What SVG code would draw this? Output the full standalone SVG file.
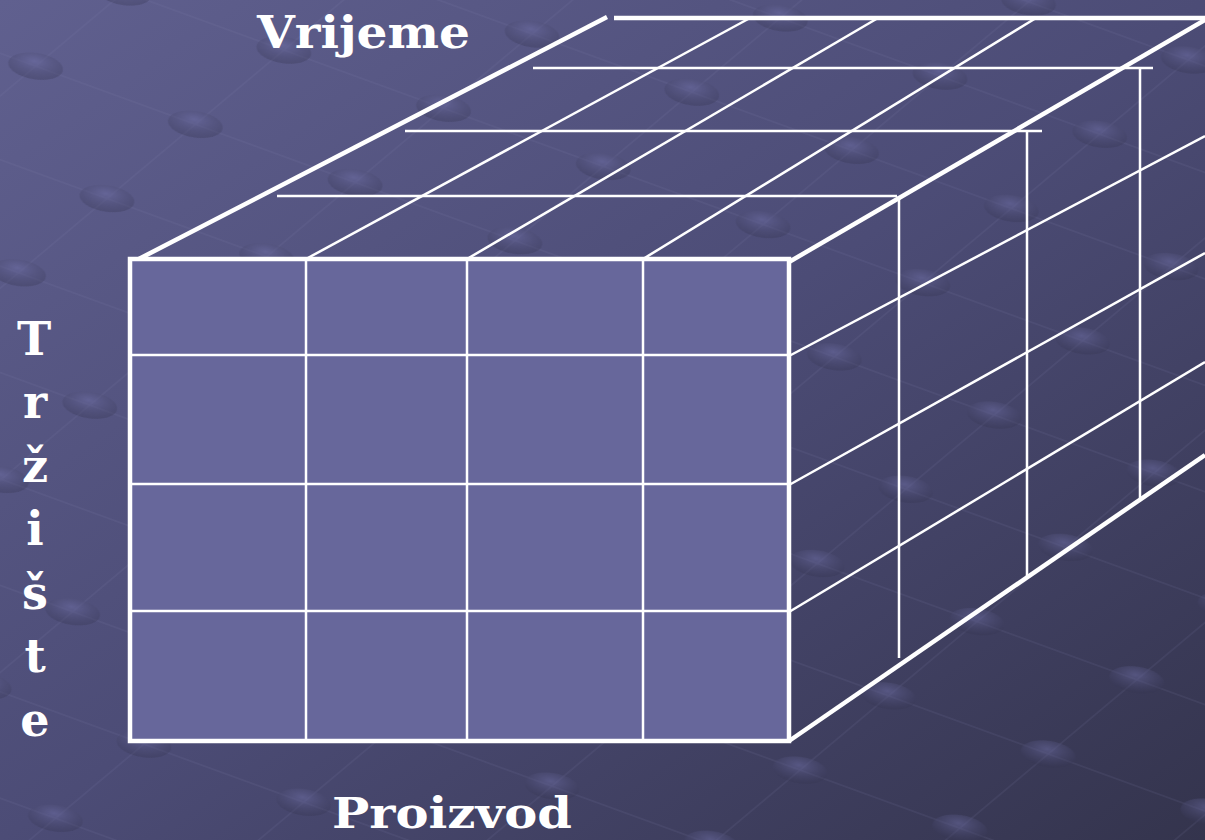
<svg xmlns="http://www.w3.org/2000/svg" width="1205" height="840" viewBox="0 0 1205 840">
<defs>
<linearGradient id="bg" x1="0" y1="0" x2="1" y2="1">
<stop offset="0" stop-color="#60608f"/>
<stop offset="0.5" stop-color="#4c4c76"/>
<stop offset="1" stop-color="#34344d"/>
</linearGradient>
<radialGradient id="dot" cx="0.4" cy="0.35" r="0.7">
<stop offset="0" stop-color="#7070a8" stop-opacity="0.5"/>
<stop offset="1" stop-color="#30304a" stop-opacity="0.3"/>
</radialGradient>
<pattern id="tex" width="170" height="100" patternUnits="userSpaceOnUse" patternTransform="rotate(20) skewX(-30)">
<path d="M0 50 H170 M85 0 V100" stroke="#8080b0" stroke-opacity="0.15" stroke-width="1.5" fill="none"/>
<ellipse cx="85" cy="50" rx="26" ry="14" fill="url(#dot)"/>
</pattern>
<style>
.thick{stroke:#fff;stroke-width:4.5;fill:none;stroke-linecap:butt}
.thin{stroke:#fff;stroke-width:2.5;fill:none}
.lbl{font-family:"DejaVu Serif","Liberation Serif",serif;font-weight:bold;fill:#fff}
.v{font-size:46px;text-anchor:middle}
</style>
</defs>
<rect width="1205" height="840" fill="url(#bg)"/>
<rect width="1205" height="840" fill="url(#tex)"/>

<g id="top-face">
<line class="thin" x1="306" y1="259" x2="750" y2="18"/>
<line class="thin" x1="467" y1="259" x2="878" y2="18"/>
<line class="thin" x1="643" y1="259" x2="1036" y2="18"/>
<line class="thin" x1="533" y1="68" x2="1153" y2="68"/>
<line class="thin" x1="405" y1="131" x2="1042" y2="131"/>
<line class="thin" x1="277" y1="196" x2="897" y2="196"/>
<line class="thick" x1="133" y1="262" x2="607" y2="17"/>
<line class="thick" x1="614" y1="18" x2="1205" y2="18"/>
</g>

<g id="right-face">
<line class="thin" x1="1140" y1="68" x2="1140" y2="498"/>
<line class="thin" x1="1027" y1="131" x2="1027" y2="578"/>
<line class="thin" x1="899" y1="196" x2="899" y2="658"/>
<line class="thin" x1="789" y1="356" x2="1205" y2="136"/>
<line class="thin" x1="789" y1="485" x2="1205" y2="253"/>
<line class="thin" x1="789" y1="612" x2="1205" y2="362"/>
<line class="thick" x1="789" y1="262" x2="1205" y2="20"/>
<line class="thick" x1="789" y1="741" x2="1205" y2="455"/>
</g>

<g id="front-face">
<rect x="130" y="259" width="659" height="482" fill="#67679b" stroke="none"/>
<line class="thin" x1="306" y1="259" x2="306" y2="741"/>
<line class="thin" x1="467" y1="259" x2="467" y2="741"/>
<line class="thin" x1="643" y1="259" x2="643" y2="741"/>
<line class="thin" x1="130" y1="355" x2="789" y2="355"/>
<line class="thin" x1="130" y1="484" x2="789" y2="484"/>
<line class="thin" x1="130" y1="611" x2="789" y2="611"/>
<rect x="130" y="259" width="659" height="482" class="thick"/>
</g>

<g id="label-vrijeme">
<text class="lbl" x="257" y="48" font-size="45" textLength="213" lengthAdjust="spacingAndGlyphs">Vrijeme</text>
</g>
<g id="label-proizvod">
<text class="lbl" x="332" y="828" font-size="42" textLength="240" lengthAdjust="spacingAndGlyphs">Proizvod</text>
</g>
<g id="label-trziste">
<text class="lbl v" x="34" y="355">T</text>
<text class="lbl v" x="35" y="418">r</text>
<text class="lbl v" x="35" y="482">ž</text>
<text class="lbl v" x="35" y="545">i</text>
<text class="lbl v" x="35" y="609">š</text>
<text class="lbl v" x="35" y="672">t</text>
<text class="lbl v" x="35" y="736">e</text>
</g>
</svg>
